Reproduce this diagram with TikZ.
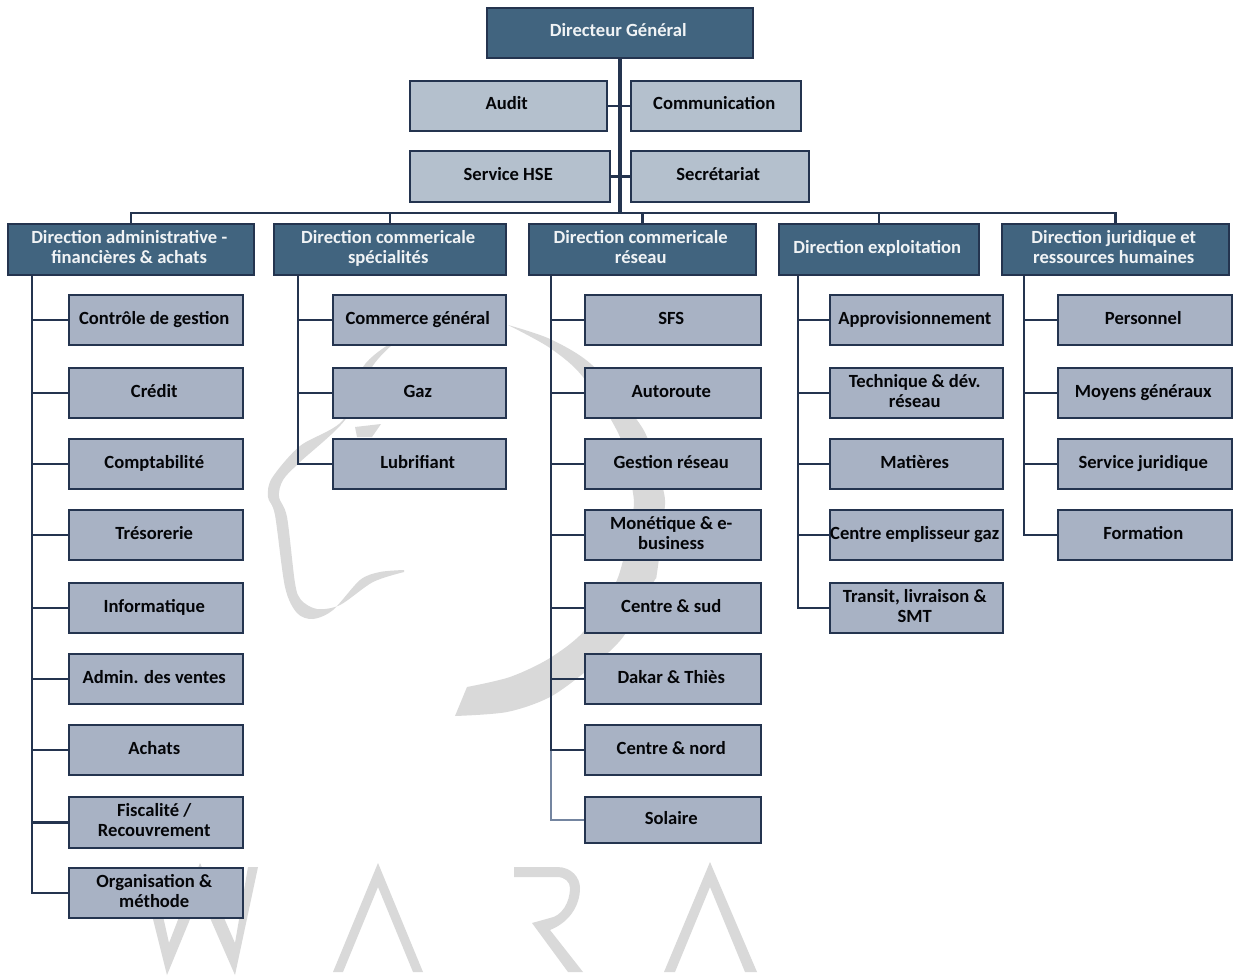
\documentclass[tikz,border=0pt]{standalone}
\usepackage{fontspec}
\setmainfont{Carlito}
\definecolor{edgeC}{HTML}{24344F}
\definecolor{headC}{HTML}{41647F}
\definecolor{staffC}{HTML}{B4C0CD}
\definecolor{unitC}{HTML}{A8B2C4}
\definecolor{wmC}{HTML}{D9D9D9}
\definecolor{lineC}{HTML}{24344F}
\definecolor{paleC}{HTML}{7485A0}
\tikzset{
  basebox/.style={draw=edgeC,line width=2.6pt,inner sep=0pt,
    font=\fontsize{18.6}{20}\selectfont\bfseries},
  headbox/.style={basebox,fill=headC,text=white!92!headC},
  staffbox/.style={basebox,fill=staffC,text=black!90!edgeC},
  unitbox/.style={basebox,fill=unitC,text=black!90!edgeC},
  wire/.style={draw=lineC,line width=2.5pt},
  trunkwire/.style={draw=lineC,line width=4.6pt},
  wmfill/.style={fill=wmC,draw=none}
}
% name, style, x0, y0, x1, y1, text
\newcommand{\bx}[7]{%
  \pgfmathsetmacro{\cxx}{(#3+#5)/2}%
  \pgfmathsetmacro{\cyy}{(#4+#6)/2}%
  \pgfmathsetmacro{\wdd}{#5-#3}%
  \pgfmathsetmacro{\htt}{#6-#4}%
  \node[#2,minimum width=\wdd pt,minimum height=\htt pt] (#1) at (\cxx,\cyy)
    {\raisebox{1pt}{\begin{tabular}{@{}c@{}}#7\end{tabular}}\kern3.5pt};%
}
\begin{document}
\begin{tikzpicture}[x=1pt,y=-1pt]
\useasboundingbox (0,0) rectangle (1236,976);
\fill[white] (0,0) rectangle (1236,976);
% watermark
\fill[wmfill] plot[smooth] coordinates {(388,345)(363,367)(343,420)(300,446)(272,478)(268,497)(275,515)(285,587)(297,613)(313,619)(333,610)(360,580)(380,572)(404,570)}
  -- plot[smooth] coordinates {(404,572)(373,582)(340,605)(317,609)(301,600)(295,583)(287,517)(279,497)(283,480)(300,462)(345,420)(372,367)(392,345)} -- cycle;
\fill[wmfill] (355,427) -- (381,424) -- (372,437) -- (357,437) -- cycle;
\fill[wmfill] plot[smooth] coordinates {(508,325)(550,339)(592,365)(637,420)(650,445)(664,493)(664,515)(657,573)(653,583)(623,637)(590,668)(550,697)(507,712)(455,716)}
  -- (467,687) -- plot[smooth] coordinates {(467,687)(510,677)(550,658)(585,630)(617,580)(632,517)(633,493)(620,437)(583,377)(550,348)(508,325)} -- cycle;
\fill[wmfill] (140,867) -- (167,975) -- (200,895) -- (235,975) -- (258,867) -- (248,867) -- (235,943) -- (200,863) -- (169,943) -- (152,867) -- cycle;
\fill[wmfill] (378,863) -- (423,972) -- (413,972) -- (378,887) -- (343,972) -- (333,972) -- cycle;
\fill[wmfill] (710,862) -- (757,972) -- (745,972) -- (710,887) -- (675,972) -- (664,972) -- cycle;
\fill[wmfill] (514,867) -- (557,867) .. controls (572,867) and (580,878) .. (580,888) .. controls (580,905) and (570,922) .. (550,930) -- (583,972) -- (568,972) -- (532,923) -- (550,918) .. controls (562,916) and (570,902) .. (570,888) .. controls (570,882) and (565,877) .. (557,877) -- (514,877) -- cycle;
% top
\bx{dg}{headbox}{487}{8}{753}{58}{Directeur Général}
\bx{audit}{staffbox}{410}{81}{607}{131}{Audit}
\bx{comm}{staffbox}{631}{81}{801}{131}{Communication}
\bx{hse}{staffbox}{410}{151}{610}{202}{Service HSE}
\bx{secr}{staffbox}{631}{151}{809}{202}{Secrétariat}
% directions
\bx{da}{headbox}{8}{224}{254}{275}{Direction administrative -\\financières \& achats}
\bx{db}{headbox}{274}{224}{506}{275}{Direction commericale\\spécialités}
\bx{dc}{headbox}{529}{224}{756}{275}{Direction commericale\\réseau}
\bx{dd}{headbox}{779}{224}{979}{275}{Direction exploitation}
\bx{de}{headbox}{1002}{224}{1229}{275}{Direction juridique et\\ressources humaines}
% column a
\bx{a1}{unitbox}{69}{295}{243}{345}{Contrôle de gestion}
\bx{a2}{unitbox}{69}{368}{243}{418}{Crédit}
\bx{a3}{unitbox}{69}{439}{243}{489}{Comptabilité}
\bx{a4}{unitbox}{69}{510}{243}{560}{Trésorerie}
\bx{a5}{unitbox}{69}{583}{243}{633}{Informatique}
\bx{a6}{unitbox}{69}{654}{243}{704}{Admin. des ventes}
\bx{a7}{unitbox}{69}{725}{243}{775}{Achats}
\bx{a8}{unitbox}{69}{797}{243}{848}{Fiscalité /\\Recouvrement}
\bx{a9}{unitbox}{69}{868}{243}{918}{Organisation \&\\méthode}
% column b
\bx{b1}{unitbox}{333}{295}{506}{345}{Commerce général}
\bx{b2}{unitbox}{333}{368}{506}{418}{Gaz}
\bx{b3}{unitbox}{333}{439}{506}{489}{Lubrifiant}
% column c
\bx{c1}{unitbox}{585}{295}{761}{345}{SFS}
\bx{c2}{unitbox}{585}{368}{761}{418}{Autoroute}
\bx{c3}{unitbox}{585}{439}{761}{489}{Gestion réseau}
\bx{c4}{unitbox}{585}{510}{761}{560}{Monétique \& e-\\business}
\bx{c5}{unitbox}{585}{583}{761}{633}{Centre \& sud}
\bx{c6}{unitbox}{585}{654}{761}{704}{Dakar \& Thiès}
\bx{c7}{unitbox}{585}{725}{761}{775}{Centre \& nord}
\bx{c8}{unitbox}{585}{797}{761}{843}{Solaire}
% column d
\bx{d1}{unitbox}{830}{295}{1003}{345}{Approvisionnement}
\bx{d2}{unitbox}{830}{368}{1003}{418}{Technique \& dév.\\réseau}
\bx{d3}{unitbox}{830}{439}{1003}{489}{Matières}
\bx{d4}{unitbox}{830}{510}{1003}{560}{Centre emplisseur gaz}
\bx{d5}{unitbox}{830}{583}{1003}{633}{Transit, livraison \&\\SMT}
% column e
\bx{e1}{unitbox}{1058}{295}{1232}{345}{Personnel}
\bx{e2}{unitbox}{1058}{368}{1232}{418}{Moyens généraux}
\bx{e3}{unitbox}{1058}{439}{1232}{489}{Service juridique}
\bx{e4}{unitbox}{1058}{510}{1232}{560}{Formation}
% anchors of the trunks
\coordinate (bus) at (620,213);
\coordinate (ta) at (32,275);
\coordinate (tb) at (298,275);
\coordinate (tc) at (551,275);
\coordinate (td) at (798,275);
\coordinate (te) at (1024,275);
% top wiring
\draw[trunkwire] (dg.south -| bus) -- (bus);
\draw[wire] (audit.east) -- (comm.west);
\draw[wire] (hse.east) -- (secr.west);
\draw[wire] (da.north) |- (bus);
\draw[wire] (de.north) |- (bus);
\draw[wire] (db.north) -- (db.north |- bus);
\draw[wire] (dc.north) -- (dc.north |- bus);
\draw[wire] (dd.north) -- (dd.north |- bus);
% branches
\foreach \n in {a1,a2,a3,a4,a5,a6,a7,a8,a9} \draw[wire] (ta) |- (\n.west);
\foreach \n in {b1,b2,b3} \draw[wire] (tb) |- (\n.west);
\draw[paleC,line width=2pt] (c7.west -| tc) |- (c8.west);
\foreach \n in {c1,c2,c3,c4,c5,c6,c7} \draw[wire] (tc) |- (\n.west);
\foreach \n in {d1,d2,d3,d4,d5} \draw[wire] (td) |- (\n.west);
\foreach \n in {e1,e2,e3,e4} \draw[wire] (te) |- (\n.west);
\end{tikzpicture}
\end{document}
